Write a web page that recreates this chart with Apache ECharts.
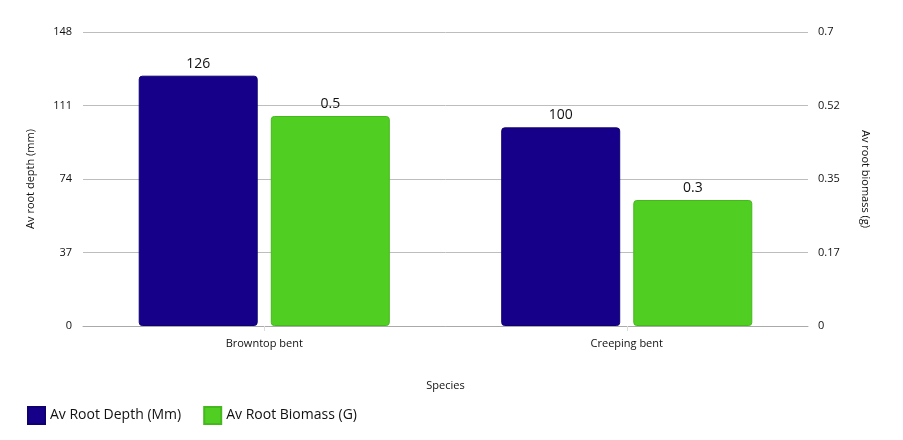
<!DOCTYPE html>
<html><head><meta charset="utf-8">
<script src="https://cdn.jsdelivr.net/npm/echarts@6/dist/echarts.min.js"></script>
<style>html,body{margin:0;padding:0;background:#fff}#c{width:903px;height:440px}</style>
</head><body><div id="c"></div>
<script>
const categories = ['Browntop bent', 'Creeping bent'];
const rootDepth = [126, 100];
const rootBiomass = [0.5, 0.3];
const seriesNames = ['Av Root Depth (Mm)', 'Av Root Biomass (G)'];
const leftTicks = [0, 37, 74, 111, 148];
const rightTicks = ['0', '0.17', '0.35', '0.52', '0.7'];

const font = '"Open Sans", "Noto Sans", sans-serif';
const chart = echarts.init(document.getElementById('c'));
chart.setOption({
  animation: false,
  textStyle: { fontFamily: font },
  grid: { left: 83, right: 95, top: 32, bottom: 114 },
  legend: {
    left: 22, top: 401, itemWidth: 17, itemHeight: 17, itemGap: 22,
    icon: 'rect',
    textStyle: { fontSize: 14, color: '#111', fontFamily: font },
    data: seriesNames
  },
  xAxis: {
    type: 'category', data: categories,
    name: 'Species', nameLocation: 'middle', nameGap: 54,
    nameTextStyle: { fontSize: 11, color: '#111' },
    axisLine: { lineStyle: { color: '#aaa' } },
    axisTick: { show: true, alignWithLabel: true, lineStyle: { color: '#ddd' }, length: 5 },
    axisLabel: { fontSize: 11, color: '#111', margin: 12 }
  },
  yAxis: [{
    type: 'value', min: 0, max: leftTicks[leftTicks.length - 1], interval: 37,
    name: 'Av root depth (mm)', nameLocation: 'middle', nameGap: 47, nameRotate: 90,
    nameTextStyle: { fontSize: 11, color: '#111' },
    axisLine: { show: false }, axisTick: { show: false },
    axisLabel: { fontSize: 11, color: '#111', margin: 11, formatter: v => String(Math.round(v)) },
    splitLine: { lineStyle: { color: '#bdbdbd' } }
  }, {
    type: 'value', min: 0, max: 0.7, interval: 0.175,
    name: 'Av root biomass (g)', nameLocation: 'middle', nameGap: 52, nameRotate: -90,
    nameTextStyle: { fontSize: 11, color: '#111' },
    axisLine: { show: false }, axisTick: { show: false },
    axisLabel: { fontSize: 11, color: '#111', margin: 10, formatter: v => rightTicks[Math.round(v / 0.175)] },
    splitLine: { show: false }
  }],
  series: [{
    name: seriesNames[0], type: 'bar', yAxisIndex: 0, data: rootDepth,
    barWidth: 119, barGap: '11%',
    itemStyle: { color: '#16008a', borderColor: '#0e0070', borderWidth: 1, borderRadius: 3 },
    label: { show: true, position: 'top', fontSize: 14, fontWeight: 500, color: '#111', distance: 5 }
  }, {
    name: seriesNames[1], type: 'bar', yAxisIndex: 1, data: rootBiomass,
    barWidth: 119,
    itemStyle: { color: '#50cf22', borderColor: '#44b81c', borderWidth: 1, borderRadius: 3 },
    label: { show: true, position: 'top', fontSize: 14, fontWeight: 500, color: '#111', distance: 5 }
  }]
});
</script></body></html>
